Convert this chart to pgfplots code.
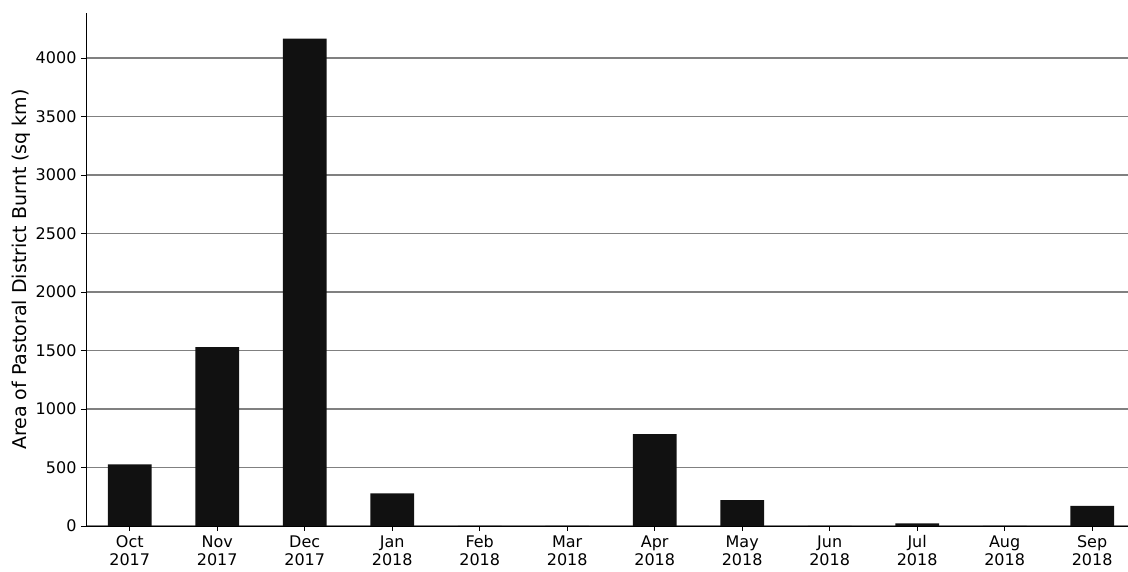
\documentclass[border=0pt]{standalone}
\usepackage{pgfplots}
\pgfplotsset{compat=1.18}
\usepackage{fontspec}
\setmainfont{DejaVu Sans}

\definecolor{barfill}{HTML}{111111}
\definecolor{gridgray}{HTML}{808080}

% two-line month label with a strut so every label sits on the same baseline
\newcommand{\mlab}[2]{\strut #1\\#2}

\begin{document}
\begin{tikzpicture}
\useasboundingbox (-86pt,-46pt) rectangle (1042pt,526pt);
\begin{axis}[
  scale only axis,
  width=1042pt, height=513pt,
  at={(0pt,0pt)}, anchor=south west,
  xmin=-0.5, xmax=11.41,
  ymin=0, ymax=4385,
  axis x line*=bottom, axis y line*=left,
  axis line style={black, line width=0.9pt},
  xtick={0,...,11},
  xticklabels={\mlab{Oct}{2017},\mlab{Nov}{2017},\mlab{Dec}{2017},\mlab{Jan}{2018},
               \mlab{Feb}{2018},\mlab{Mar}{2018},\mlab{Apr}{2018},\mlab{May}{2018},
               \mlab{Jun}{2018},\mlab{Jul}{2018},\mlab{Aug}{2018},\mlab{Sep}{2018}},
  ytick={0,500,...,4000},
  /pgf/number format/assume math mode=true,
  /pgf/number format/1000 sep={},
  tick align=outside,
  xtick style={black, line width=0.8pt},
  ytick style={black, line width=0.8pt},
  major tick length=5pt,
  ymajorgrids,
  major grid style={gridgray, line width=1.1pt},
  tick label style={font=\fontsize{16}{18}\selectfont},
  xticklabel style={align=center, yshift=-0.5pt},
  yticklabel style={xshift=-1pt},
  ylabel={Area of Pastoral District Burnt (sq km)},
  ylabel style={font=\fontsize{19}{22}\selectfont, yshift=-2pt},
  ybar, bar width=0.5, bar shift=0pt,
]
\addplot[draw=none, fill=barfill] coordinates {
  (0,527) (1,1530) (2,4165) (3,279) (4,0) (5,0)
  (6,786) (7,222) (8,0) (9,23) (10,0) (11,171)
};
\end{axis}
\end{tikzpicture}
\end{document}
